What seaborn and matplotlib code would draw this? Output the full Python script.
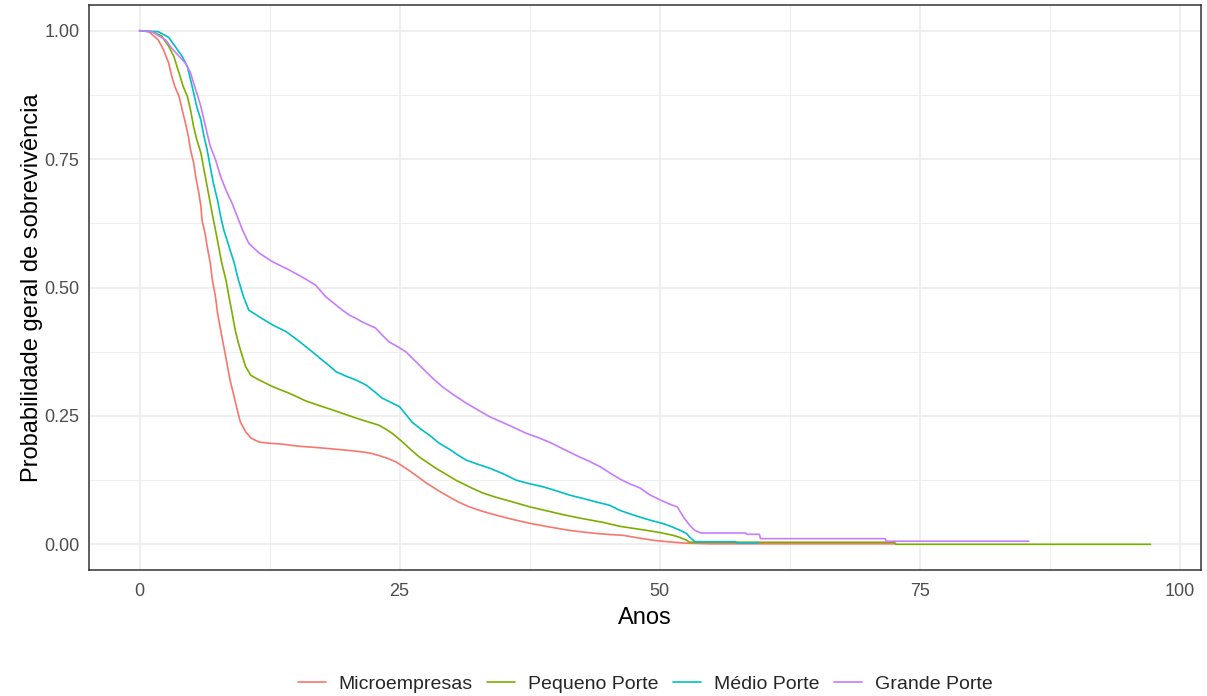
import numpy as np
import pandas as pd
import matplotlib
matplotlib.use("Agg")
import matplotlib.pyplot as plt
import seaborn as sns

# ---------------- data ----------------
groups = ["Microempresas", "Pequeno Porte", "Médio Porte", "Grande Porte"]
colors = ["#F8766D", "#7CAE00", "#00BFC4", "#C77CFF"]

micro_t = [0, 0.9, 1.8, 2.3, 2.8, 3.1, 3.4, 3.8, 4.1, 4.4, 4.7, 4.9, 5.2, 5.4, 5.7, 5.9,
           6.0, 6.3, 6.5, 6.8, 7.0, 7.3, 7.5, 7.8, 8.1, 8.4, 8.7, 9.1, 9.4, 9.7, 10.2, 10.7,
           11.5, 12.4, 13.7, 15.3, 17.3, 19.5, 21.4, 22.3, 23.0, 23.9, 24.7, 25.3, 25.9,
           26.8, 27.6, 28.7, 29.8, 30.7, 31.7, 32.7, 33.7, 35.0, 36.2, 37.5, 38.8, 40.2,
           41.4, 42.6, 44.0, 45.3, 46.5, 47.8, 49.4, 50.8, 52.3, 54.9, 72.7]
micro_s = [1.0, 0.998, 0.982, 0.963, 0.937, 0.911, 0.891, 0.872, 0.846, 0.821, 0.794, 0.768,
           0.743, 0.716, 0.684, 0.658, 0.632, 0.605, 0.58, 0.548, 0.515, 0.482, 0.45, 0.417,
           0.385, 0.353, 0.32, 0.287, 0.261, 0.238, 0.219, 0.207, 0.199, 0.197, 0.195, 0.191,
           0.188, 0.184, 0.18, 0.177, 0.173, 0.167, 0.16, 0.152, 0.144, 0.131, 0.119, 0.105,
           0.092, 0.082, 0.073, 0.066, 0.06, 0.053, 0.047, 0.041, 0.036, 0.031, 0.027, 0.024,
           0.021, 0.019, 0.0175, 0.013, 0.0078, 0.005, 0.0025, 0.001, 0.001]

peq_t = [0, 1.2, 2.1, 2.8, 3.3, 3.6, 3.9, 4.2, 4.6, 4.9, 5.2, 5.5, 5.9, 6.2, 6.5, 6.8, 7.1,
         7.3, 7.6, 7.9, 8.3, 8.6, 8.9, 9.2, 9.5, 9.9, 10.2, 10.7, 11.5, 12.8, 14.4, 16.0,
         17.3, 18.5, 19.5, 20.5, 21.4, 22.2, 23.0, 23.7, 24.3, 25.3, 26.1, 26.9, 27.7, 28.5,
         29.5, 30.4, 31.2, 32.0, 33.0, 34.2, 35.8, 37.5, 39.2, 40.9, 42.6, 44.5, 46.2, 47.5,
         48.8, 50.0, 51.3, 52.0, 52.6, 52.9, 72.6, 72.7, 97.2]
peq_s = [1.0, 0.998, 0.99, 0.97, 0.95, 0.93, 0.911, 0.891, 0.872, 0.846, 0.813, 0.788, 0.762,
         0.729, 0.697, 0.664, 0.632, 0.612, 0.58, 0.548, 0.515, 0.482, 0.45, 0.417, 0.392,
         0.365, 0.346, 0.329, 0.32, 0.307, 0.294, 0.279, 0.27, 0.262, 0.255, 0.248, 0.242,
         0.237, 0.232, 0.224, 0.216, 0.199, 0.184, 0.17, 0.159, 0.148, 0.136, 0.125, 0.117,
         0.109, 0.1, 0.092, 0.083, 0.073, 0.065, 0.057, 0.05, 0.043, 0.035, 0.031, 0.027,
         0.023, 0.0175, 0.013, 0.0078, 0.004, 0.004, 0.0, 0.0]

med_t = [0, 1.8, 2.8, 3.4, 4.1, 4.6, 4.9, 5.2, 5.5, 5.9, 6.2, 6.5, 6.8, 7.1, 7.5, 7.8, 8.1,
         8.6, 9.1, 9.5, 10.0, 10.5, 11.5, 12.8, 14.1, 15.3, 16.6, 17.3, 18.1, 18.9, 19.9,
         20.8, 21.8, 22.6, 23.3, 24.2, 25.0, 25.6, 26.2, 27.0, 27.9, 28.8, 29.8, 30.6, 31.4,
         32.5, 33.7, 35.0, 36.2, 37.5, 38.8, 40.1, 41.4, 42.7, 43.9, 45.2, 46.2, 47.2, 48.1,
         49.1, 50.4, 51.2, 52.0, 52.6, 52.9, 53.4, 57.3, 57.4, 59.5]
med_s = [1.0, 0.998, 0.987, 0.97, 0.95, 0.93, 0.905, 0.879, 0.852, 0.826, 0.794, 0.768,
         0.735, 0.703, 0.67, 0.638, 0.612, 0.58, 0.548, 0.515, 0.482, 0.456, 0.443, 0.427,
         0.414, 0.396, 0.375, 0.363, 0.35, 0.336, 0.327, 0.32, 0.31, 0.297, 0.285, 0.276,
         0.268, 0.253, 0.238, 0.225, 0.212, 0.197, 0.185, 0.174, 0.164, 0.156, 0.148, 0.137,
         0.125, 0.118, 0.112, 0.104, 0.0955, 0.089, 0.0825, 0.076, 0.066, 0.059, 0.053,
         0.047, 0.04, 0.034, 0.027, 0.021, 0.014, 0.005, 0.005, 0.003, 0.003]

gra_t = [0, 1.2, 2.5, 3.1, 3.8, 4.4, 4.9, 5.2, 5.5, 5.9, 6.2, 6.5, 6.8, 7.3, 7.8, 8.3, 8.9,
         9.4, 9.9, 10.5, 11.5, 12.8, 14.4, 15.3, 16.0, 16.9, 17.3, 17.9, 18.7, 19.5, 20.2,
         20.8, 21.4, 22.7, 23.3, 24.0, 24.8, 25.6, 26.4, 27.2, 28.1, 29.1, 30.2, 31.4, 32.5,
         33.7, 35.5, 37.2, 38.3, 39.4, 40.7, 42.0, 43.2, 44.3, 45.3, 46.2, 47.2, 48.1, 49.0,
         50.0, 51.0, 51.7, 52.3, 52.9, 53.4, 54.0, 58.3, 58.4, 59.6, 59.7, 71.7, 71.8, 85.5]
gra_s = [1.0, 0.998, 0.982, 0.966, 0.95, 0.937, 0.918, 0.898, 0.879, 0.852, 0.826, 0.8,
         0.775, 0.749, 0.716, 0.69, 0.664, 0.638, 0.612, 0.586, 0.567, 0.55, 0.534, 0.524,
         0.516, 0.505, 0.496, 0.482, 0.469, 0.456, 0.446, 0.44, 0.433, 0.421, 0.408, 0.394,
         0.385, 0.375, 0.359, 0.343, 0.325, 0.307, 0.291, 0.275, 0.262, 0.248, 0.232, 0.216,
         0.208, 0.199, 0.186, 0.173, 0.162, 0.151, 0.138, 0.127, 0.117, 0.11, 0.097, 0.087,
         0.078, 0.073, 0.053, 0.037, 0.027, 0.022, 0.022, 0.0195, 0.0195, 0.011, 0.011,
         0.006, 0.006]

x_ticks = [0, 25, 50, 75, 100]
y_ticks = [0.00, 0.25, 0.50, 0.75, 1.00]
x_label = "Anos"
y_label = "Probabilidade geral de sobrevivência"

# ---------------- build long table ----------------
frames = []
for name, t, s in zip(groups, [micro_t, peq_t, med_t, gra_t],
                      [micro_s, peq_s, med_s, gra_s]):
    frames.append(pd.DataFrame({"Anos": t, "Sobrevivencia": s, "Porte": name}))
df = pd.concat(frames, ignore_index=True)

# ---------------- style ----------------
sns.set_theme(style="white")
plt.rcParams["font.family"] = ["Liberation Sans", "DejaVu Sans"]

fig = plt.figure(figsize=(12.07, 6.96), dpi=100)
W, H = 1207, 696
ax = fig.add_axes([89 / W, 1 - 570 / H, (1201 - 89) / W, (570 - 5) / H])

sns.lineplot(data=df, x="Anos", y="Sobrevivencia", hue="Porte", hue_order=groups,
             palette=colors, estimator=None, linewidth=1.2, ax=ax)

ax.set_xlim(-4.86, 102.06)
ax.set_ylim(-0.05, 1.05)
ax.set_xticks(x_ticks)
ax.set_xticklabels([str(v) for v in x_ticks])
ax.set_yticks(y_ticks)
ax.set_yticklabels([f"{v:.2f}" for v in y_ticks])
ax.set_xticks([12.5, 37.5, 62.5, 87.5], minor=True)
ax.set_yticks([0.125, 0.375, 0.625, 0.875], minor=True)

ax.grid(True, which="major", color="#EBEBEB", linewidth=1.1)
ax.grid(True, which="minor", color="#EBEBEB", linewidth=0.55)
ax.set_axisbelow(True)

for sp in ax.spines.values():
    sp.set_color("#333333")
    sp.set_linewidth(1.1)

ax.tick_params(axis="both", which="major", colors="#333333", labelcolor="#4D4D4D",
               labelsize=13, width=1.0)
ax.tick_params(axis="x", which="major", length=3, pad=6)
ax.tick_params(axis="y", which="major", length=5, pad=2)
ax.tick_params(which="minor", length=0)

ax.set_xlabel(x_label, fontsize=17, color="black")
ax.set_ylabel(y_label, fontsize=17, color="black")
ax.xaxis.set_label_coords(0.5, -0.085)
ax.xaxis.label.set_va("center")
ax.yaxis.set_label_coords(-0.0513, 0.5)
ax.yaxis.label.set_va("center")

handles, labels = ax.get_legend_handles_labels()
if ax.get_legend() is not None:
    ax.get_legend().remove()
leg = fig.legend(handles, labels, loc="center", bbox_to_anchor=(645 / W, 12 / H),
                 ncol=4, frameon=False, fontsize=14, handlelength=1.45,
                 handletextpad=0.65, columnspacing=0.75)
for ln in leg.get_lines():
    ln.set_linewidth(1.2)

fig.savefig("out.png", dpi=100)
